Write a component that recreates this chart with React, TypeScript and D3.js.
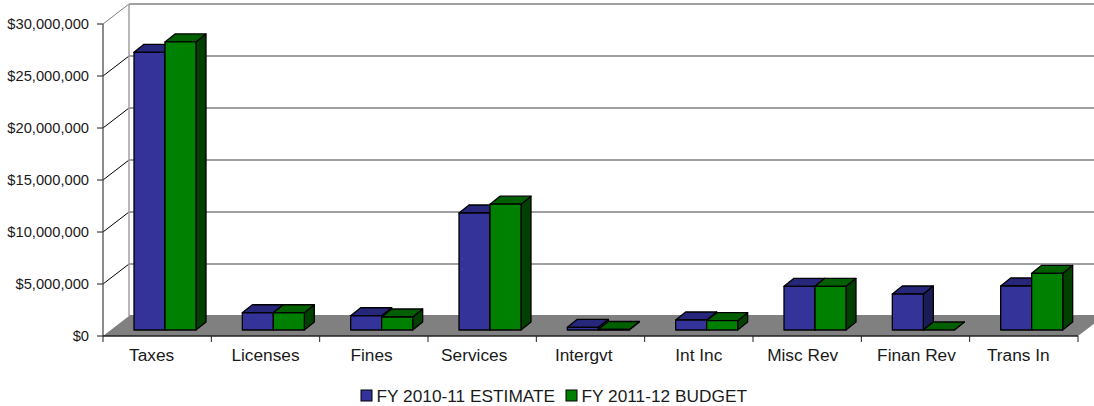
import React from "react";
import * as d3 from "d3";

const categories = ["Taxes", "Licenses", "Fines", "Services", "Intergvt", "Int Inc", "Misc Rev", "Finan Rev", "Trans In"];
const estimate = [26700000, 1660000, 1370000, 11250000, 260000, 960000, 4200000, 3460000, 4230000];
const budget = [27700000, 1660000, 1250000, 12100000, 50000, 900000, 4200000, 0, 5450000];
const yTicks = [0, 5000000, 10000000, 15000000, 20000000, 25000000, 30000000];
const seriesNames = ["FY 2010-11 ESTIMATE", "FY 2011-12 BUDGET"];
const seriesFaces = ["#333399", "#008000"];
const seriesTops = ["#26267a", "#006000"];
const seriesSides = ["#1b1b55", "#004000"];

const WIDTH = 1094;
const HEIGHT = 406;
const FONT = "'Liberation Sans', Arial, sans-serif";
const TEXT = "#1a1a1a";

// Oblique offset of the back wall from the front plane
const WALL_DX = 26;
const WALL_DY = -20;
// Where bars sit on the floor, relative to the front plane
const BAR_DX = 8;
const BAR_DY = -6;
// Oblique depth of each bar
const DEPTH_DX = 10;
const DEPTH_DY = -8;
// Hand-placed nudges for the category captions
const LABEL_NUDGE = [-5.5, 0, -2.3, -8, -6.8, 0, -4.5, 1, -5.5];

const x = d3.scaleBand<string>().domain(categories).range([103, 1078]);
const y = d3.scaleLinear().domain([0, 30000000]).range([336, 24]);
const money = (v: number) => "$" + d3.format(",")(v);

const poly = (pts: [number, number][]) => pts.map((p) => p.join(",")).join(" ");

function Bar({ cat, value, series }: { cat: string; value: number; series: number }) {
  const barWidth = 31;
  const x0 = (x(cat) as number) + BAR_DX + 23 + series * barWidth;
  const x1 = x0 + barWidth;
  const base = y(0) + BAR_DY;
  const top = y(value) + BAR_DY;
  const edge = { stroke: "#000", strokeWidth: 1.3, strokeLinejoin: "round" as const };
  return (
    <g>
      <polygon
        points={poly([[x1, base], [x1 + DEPTH_DX, base + DEPTH_DY], [x1 + DEPTH_DX, top + DEPTH_DY], [x1, top]])}
        fill={seriesSides[series]}
        {...edge}
      />
      <polygon
        points={poly([[x0, top], [x0 + DEPTH_DX, top + DEPTH_DY], [x1 + DEPTH_DX, top + DEPTH_DY], [x1, top]])}
        fill={seriesTops[series]}
        {...edge}
      />
      <rect x={x0} y={top} width={barWidth} height={base - top} fill={seriesFaces[series]} {...edge} />
    </g>
  );
}

export default function App() {
  const [left, right] = x.range();
  const bottom = y(0);
  const bandwidth = x.bandwidth();
  const tickEdges = [...categories.map((c) => x(c) as number), right];
  return (
    <svg
      width={WIDTH}
      height={HEIGHT}
      viewBox={`0 0 ${WIDTH} ${HEIGHT}`}
      style={{ position: "absolute", left: 0, top: 0, background: "#fff" }}
    >
      {/* floor */}
      <polygon
        points={poly([[left, bottom], [left + WALL_DX, bottom + WALL_DY], [right + WALL_DX, bottom + WALL_DY], [right, bottom]])}
        fill="#808080"
      />
      {/* back wall gridlines and side wall diagonals */}
      {yTicks.map((t) => (
        <g key={t}>
          {t > 0 && (
            <line
              x1={left}
              y1={y(t)}
              x2={left + WALL_DX}
              y2={y(t) + WALL_DY}
              stroke={t === 30000000 ? "#808080" : "#000"}
              strokeWidth={1}
            />
          )}
          <line
            x1={left + WALL_DX}
            y1={y(t) + WALL_DY}
            x2={right + WALL_DX}
            y2={y(t) + WALL_DY}
            stroke="#808080"
            strokeWidth={t === 0 ? 2 : 1.5}
          />
        </g>
      ))}
      <line
        x1={left + WALL_DX}
        y1={y(30000000) + WALL_DY}
        x2={left + WALL_DX}
        y2={bottom + WALL_DY}
        stroke="#a0a0a0"
        strokeWidth={1.5}
      />
      {/* bars, drawn left to right so nearer faces overlap */}
      {categories.map((c, i) => (
        <g key={c}>
          <Bar cat={c} value={estimate[i]} series={0} />
          <Bar cat={c} value={budget[i]} series={1} />
        </g>
      ))}
      {/* value axis */}
      <line x1={left} y1={y(30000000)} x2={left} y2={bottom} stroke="#404040" strokeWidth={1.2} />
      {yTicks.map((t) => (
        <g key={t}>
          <line x1={left - 6} y1={y(t)} x2={left} y2={y(t)} stroke="#404040" strokeWidth={1.2} />
          <text
            x={left - 14}
            y={y(t) + 5}
            textAnchor="end"
            fontFamily={FONT}
            fontSize={14.7}
            fill={TEXT}
          >
            {money(t)}
          </text>
        </g>
      ))}
      {/* category axis */}
      <line x1={left} y1={bottom} x2={right} y2={bottom} stroke="#202020" strokeWidth={1.5} />
      {tickEdges.map((e) => (
        <line key={e} x1={e} y1={bottom} x2={e} y2={bottom + 6} stroke="#202020" strokeWidth={1} />
      ))}
      {categories.map((c, i) => (
        <text
          key={c}
          x={(x(c) as number) + bandwidth / 2 + LABEL_NUDGE[i]}
          y={361}
          textAnchor="middle"
          fontFamily={FONT}
          fontSize={17.3}
          fill={TEXT}
        >
          {c}
        </text>
      ))}
      {/* legend */}
      {seriesNames.map((name, i) => {
        const swatchX = i === 0 ? 361 : 566;
        return (
          <g key={name}>
            <rect x={swatchX} y={390} width={11} height={11} fill={seriesFaces[i]} stroke="#000" strokeWidth={1} />
            <text x={swatchX + 15.5} y={402} fontFamily={FONT} fontSize={17.3} fill={TEXT}>
              {name}
            </text>
          </g>
        );
      })}
    </svg>
  );
}
